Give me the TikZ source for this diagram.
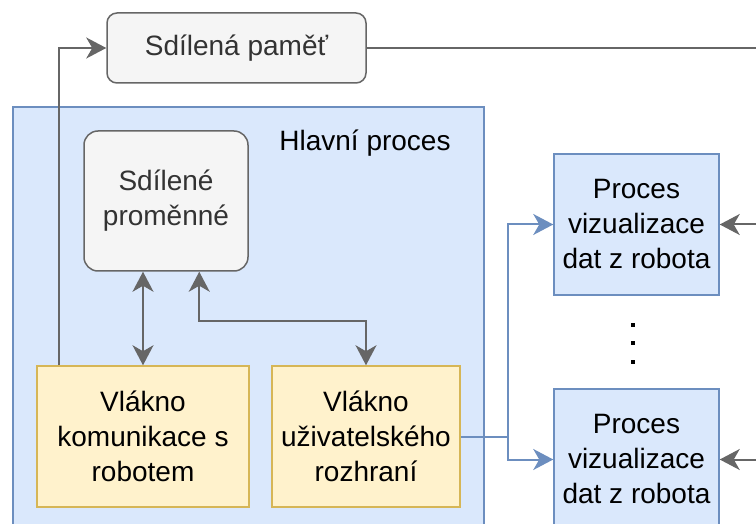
\documentclass[tikz,border=0pt]{standalone}
\usepackage{fontspec}
\setmainfont{Liberation Sans}
\usetikzlibrary{arrows.meta,calc}

\definecolor{bluefill}{HTML}{DAE8FC}
\definecolor{bluedraw}{HTML}{6C8EBF}
\definecolor{yelfill}{HTML}{FFF2CC}
\definecolor{yeldraw}{HTML}{D6B656}
\definecolor{grayfill}{HTML}{F5F5F5}
\definecolor{graydraw}{HTML}{666666}
\definecolor{graytext}{HTML}{333333}

\tikzset{
  boxtext/.style={font=\fontsize{28}{35}\selectfont, align=center, inner sep=0pt},
  container/.style={draw=bluedraw, fill=bluefill, line width=1.5pt, inner sep=0pt},
  graybox/.style={boxtext, draw=graydraw, fill=grayfill, text=graytext, line width=1.5pt, rounded corners=14pt},
  yelbox/.style={boxtext, draw=yeldraw, fill=yelfill, line width=1.5pt},
  bluebox/.style={boxtext, draw=bluedraw, fill=bluefill, line width=1.5pt},
  headtip/.tip={Stealth[length=20pt,width=21pt,inset=6pt]},
  tip/.style={-headtip},
  bitip/.style={headtip-headtip},
  grayline/.style={draw=graydraw, line width=2pt},
  blueline/.style={draw=bluedraw, line width=2pt},
}

\begin{document}
\begin{tikzpicture}[x=1pt, y=-1pt]
\useasboundingbox (0,0) rectangle (756,524);
\clip (0,0) rectangle (756,524);

% main process container and its title
\node[container, minimum width=471pt, minimum height=433pt] (main) at (248.5,323.5) {};
\node[boxtext, anchor=base] (maintitle) at (365,151) {Hlavní proces};

% shared memory
\node[graybox, rounded corners=10pt, minimum width=259pt, minimum height=70pt] (shm) at (236.5,48) {Sdílená paměť};

% shared variables
\node[graybox, minimum width=164pt, minimum height=140pt] (vars) at (166,201) {Sdílené\\proměnné};

% threads
\node[yelbox, minimum width=212pt, minimum height=141pt] (comm) at (143,436.5) {Vlákno\\komunikace s\\robotem};
\node[yelbox, minimum width=188pt, minimum height=141pt] (ui) at (366,436.5) {Vlákno\\uživatelského\\rozhraní};

% visualisation processes
\node[bluebox, minimum width=165pt, minimum height=141pt] (proc1) at (636.5,224.5) {Proces\\vizualizace\\dat z robota};
\node[bluebox, minimum width=165pt, minimum height=141pt] (proc2) at (636.5,459.5) {Proces\\vizualizace\\dat z robota};

% ellipsis between the processes
\foreach \yy in {325,343,362}
  \fill[black] (631,\yy-2) rectangle (635,\yy+2);

% free ends leaving the picture on the right
\coordinate (shmout) at (770,48);
\coordinate (in1) at (770,224.5);
\coordinate (in2) at (770,459.5);
\coordinate (split) at (508,436.5);

% connectors
\draw[grayline, tip] ($(comm.north west)+(23,0)$) |- (shm.west);
\draw[grayline] (shm.east) -- (shmout);
\draw[grayline, bitip] (comm.north |- vars.south) -- (comm.north);
\draw[grayline, bitip] ($(vars.south west)+(116,0)$) -- ++(0,49) -| (ui.north);
\draw[grayline, tip] (in1) -- (proc1.east);
\draw[grayline, tip] (in2) -- (proc2.east);
\draw[blueline] (ui.east) -- (split);
\draw[blueline, tip] (split) |- (proc1.west);
\draw[blueline, tip] (split) |- (proc2.west);
\end{tikzpicture}
\end{document}
